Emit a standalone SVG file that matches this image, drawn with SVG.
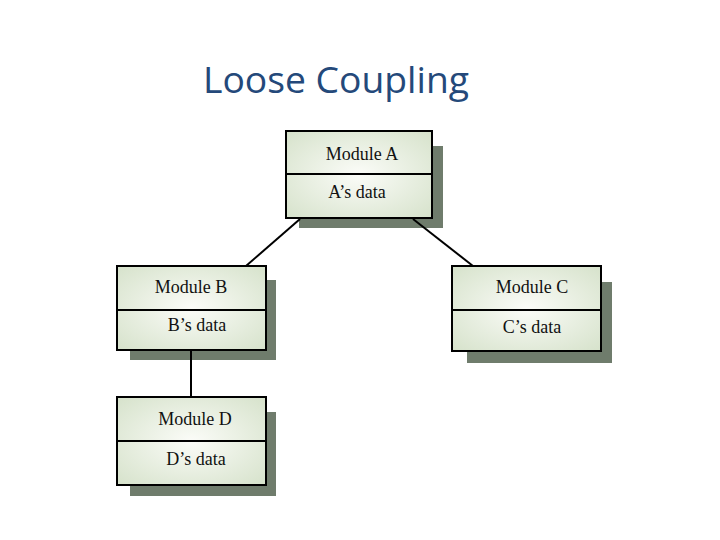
<svg xmlns="http://www.w3.org/2000/svg" width="720" height="540" viewBox="0 0 720 540">
<defs>
<radialGradient id="g" cx="0.5" cy="0.5" r="0.7">
<stop offset="0" stop-color="#fbfcf8"/>
<stop offset="1" stop-color="#d6e2cb"/>
</radialGradient>
</defs>
<style>
.sh{fill:#6f7c6c}
.bx{fill:url(#g);stroke:#000;stroke-width:2}
.dv{stroke:#000;stroke-width:2}
.t{font-family:"Liberation Serif","Times New Roman",serif;font-size:18px;fill:#111;text-anchor:middle}
.c{stroke:#000;stroke-width:2;fill:none}
</style>
<rect width="720" height="540" fill="#fff"/>
<text x="336" y="93" font-family="Open Sans, Liberation Sans, sans-serif" font-size="36" fill="#24497a" text-anchor="middle" textLength="266" lengthAdjust="spacingAndGlyphs">Loose Coupling</text>
<g id="moduleA">
<rect class="sh" x="299" y="146" width="144" height="82"/>
<rect class="bx" x="286" y="131" width="146" height="87"/>
<line class="dv" x1="286" y1="174" x2="432" y2="174"/>
<text class="t" x="362" y="160">Module A</text>
<text class="t" x="357" y="198">A’s data</text>
</g>
<g id="moduleB">
<rect class="sh" x="130" y="280" width="146" height="80"/>
<rect class="bx" x="117" y="266" width="149" height="84"/>
<line class="dv" x1="117" y1="310" x2="266" y2="310"/>
<text class="t" x="191" y="293">Module B</text>
<text class="t" x="197" y="331">B’s data</text>
</g>
<g id="moduleC">
<rect class="sh" x="467" y="282" width="145" height="81"/>
<rect class="bx" x="452" y="266" width="149" height="85"/>
<line class="dv" x1="452" y1="310" x2="601" y2="310"/>
<text class="t" x="532" y="293">Module C</text>
<text class="t" x="532" y="333">C’s data</text>
</g>
<g id="moduleD">
<rect class="sh" x="130" y="412" width="146" height="84"/>
<rect class="bx" x="117" y="397" width="149" height="88"/>
<line class="dv" x1="117" y1="441" x2="266" y2="441"/>
<text class="t" x="195" y="425">Module D</text>
<text class="t" x="196" y="465">D’s data</text>
</g>
<g id="connectors">
<line class="c" x1="300" y1="219" x2="246" y2="266"/>
<line class="c" x1="413" y1="219" x2="473" y2="266"/>
<line class="c" x1="191" y1="351" x2="191" y2="396"/>
</g>
</svg>
